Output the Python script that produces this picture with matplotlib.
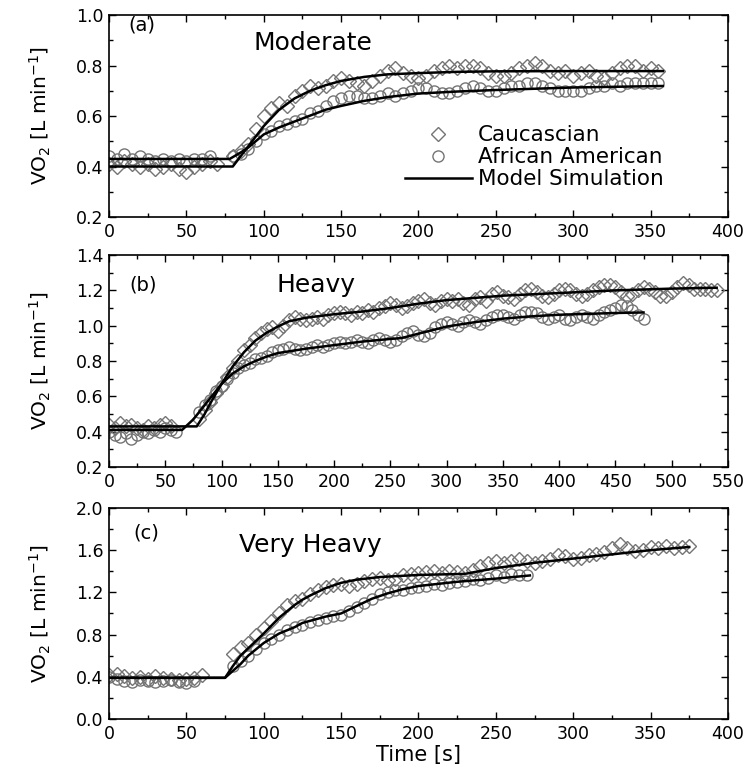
import numpy as np
import matplotlib
matplotlib.use('Agg')
import matplotlib.pyplot as plt
from matplotlib.ticker import MultipleLocator, FormatStrFormatter

plt.rcParams['font.family'] = ['DejaVu Sans']

# ---------------- panel (a) Moderate ----------------
a_cau_t = np.concatenate([np.arange(0, 75, 5), np.arange(80, 360, 5)])
a_cau_v = [0.41, 0.40, 0.42, 0.41, 0.40, 0.41, 0.39, 0.40, 0.41, 0.39, 0.38, 0.40, 0.41, 0.42, 0.41,
           0.44, 0.46, 0.49, 0.55, 0.60, 0.63, 0.65, 0.64, 0.68, 0.70,
           0.72, 0.71, 0.72, 0.74, 0.75, 0.74, 0.73, 0.72, 0.74, 0.76,
           0.78, 0.79, 0.77, 0.76, 0.75, 0.76, 0.78, 0.79, 0.80, 0.79,
           0.80, 0.80, 0.79, 0.77, 0.76, 0.76, 0.77, 0.79, 0.80, 0.81,
           0.80, 0.78, 0.77, 0.78, 0.76, 0.77, 0.78, 0.76, 0.75, 0.77,
           0.79, 0.80, 0.80, 0.78, 0.79, 0.78]
a_afr_t = np.concatenate([np.arange(0, 70, 5), np.arange(80, 360, 5)])
a_afr_v = [0.44, 0.43, 0.45, 0.43, 0.44, 0.43, 0.42, 0.43, 0.42, 0.43, 0.42, 0.43, 0.43, 0.44,
           0.44, 0.45, 0.47, 0.50, 0.53, 0.54, 0.56, 0.57, 0.58, 0.59,
           0.61, 0.62, 0.64, 0.66, 0.67, 0.68, 0.68, 0.67, 0.67, 0.68,
           0.69, 0.68, 0.69, 0.70, 0.71, 0.71, 0.70, 0.69, 0.69, 0.70,
           0.71, 0.72, 0.71, 0.70, 0.70, 0.71, 0.72, 0.72, 0.73, 0.73,
           0.72, 0.71, 0.70, 0.70, 0.70, 0.70, 0.71, 0.72, 0.72, 0.73,
           0.72, 0.73, 0.73, 0.73, 0.73, 0.73]
a_cau_mt = [0, 80, 85, 90, 95, 100, 110, 120, 130, 140, 150, 165, 180, 200, 225, 250, 300, 358]
a_cau_mv = [0.40, 0.40, 0.44, 0.48, 0.52, 0.56, 0.625, 0.67, 0.70, 0.722, 0.739, 0.755, 0.765,
            0.770, 0.775, 0.777, 0.778, 0.778]
a_afr_mt = [0, 78, 85, 90, 100, 110, 125, 140, 150, 165, 180, 200, 225, 250, 300, 358]
a_afr_mv = [0.43, 0.43, 0.455, 0.475, 0.527, 0.555, 0.59, 0.625, 0.64, 0.66, 0.675, 0.689,
            0.697, 0.703, 0.713, 0.719]

# ---------------- panel (b) Heavy ----------------
b_cau_t = np.concatenate([np.arange(0, 60, 5), np.arange(80, 545, 5)])
b_cau_v = [0.44, 0.42, 0.45, 0.43, 0.44, 0.42, 0.41, 0.43, 0.42, 0.44, 0.45, 0.43,
           0.47, 0.52, 0.57, 0.62, 0.66, 0.71, 0.76, 0.80, 0.86, 0.89,
           0.93, 0.96, 0.98, 0.99, 0.97, 1.00, 1.03, 1.05, 1.04, 1.03,
           1.04, 1.05, 1.04, 1.06, 1.07, 1.08, 1.07, 1.06, 1.08, 1.07,
           1.09, 1.08, 1.10, 1.11, 1.13, 1.12, 1.10, 1.11, 1.13, 1.14,
           1.15, 1.13, 1.12, 1.14, 1.15, 1.14, 1.15, 1.13, 1.12, 1.15,
           1.16, 1.14, 1.18, 1.19, 1.17, 1.16, 1.15, 1.18, 1.20, 1.21,
           1.19, 1.17, 1.16, 1.18, 1.20, 1.21, 1.20, 1.18, 1.17, 1.18,
           1.20, 1.22, 1.23, 1.23, 1.22, 1.19, 1.17, 1.18, 1.20, 1.22,
           1.21, 1.19, 1.17, 1.17, 1.19, 1.22, 1.24, 1.23, 1.21, 1.21,
           1.21, 1.20, 1.20]
b_afr_t = np.concatenate([np.arange(0, 65, 5), np.arange(80, 480, 5)])
b_afr_v = [0.40, 0.38, 0.37, 0.39, 0.36, 0.38, 0.40, 0.39, 0.41, 0.40, 0.42, 0.41, 0.40,
           0.51, 0.55, 0.58, 0.63, 0.66, 0.70, 0.73, 0.76, 0.78, 0.79,
           0.81, 0.82, 0.83, 0.85, 0.86, 0.87, 0.88, 0.87, 0.86, 0.87,
           0.88, 0.89, 0.88, 0.89, 0.90, 0.91, 0.90, 0.91, 0.92, 0.91,
           0.90, 0.92, 0.93, 0.92, 0.91, 0.92, 0.94, 0.96, 0.97, 0.95,
           0.94, 0.96, 0.99, 1.01, 1.02, 1.01, 1.00, 1.02, 1.03, 1.02,
           1.01, 1.03, 1.05, 1.06, 1.06, 1.05, 1.04, 1.06, 1.08, 1.08,
           1.07, 1.05, 1.04, 1.05, 1.06, 1.04, 1.03, 1.05, 1.06, 1.05,
           1.04, 1.06, 1.08, 1.09, 1.10, 1.12, 1.11, 1.09, 1.06, 1.04]
b_cau_mt = [0, 78, 85, 90, 100, 110, 120, 130, 140, 150, 160, 175, 200, 225, 250, 275, 300,
            350, 400, 450, 500, 540]
b_cau_mv = [0.43, 0.43, 0.50, 0.56, 0.67, 0.77, 0.85, 0.915, 0.96, 0.995, 1.025, 1.045, 1.065,
            1.08, 1.10, 1.125, 1.145, 1.17, 1.185, 1.20, 1.21, 1.215]
b_afr_mt = [0, 65, 75, 85, 95, 100, 110, 120, 130, 140, 150, 175, 200, 225, 250, 260, 275,
            300, 325, 350, 375, 400, 450, 475]
b_afr_mv = [0.41, 0.41, 0.47, 0.55, 0.63, 0.67, 0.73, 0.77, 0.80, 0.825, 0.845, 0.87, 0.89,
            0.91, 0.925, 0.93, 0.955, 0.995, 1.02, 1.04, 1.053, 1.062, 1.072, 1.075]

# ---------------- panel (c) Very Heavy ----------------
c_cau_t = np.concatenate([np.arange(0, 65, 5), np.arange(80, 380, 5)])
c_cau_v = [0.42, 0.43, 0.41, 0.39, 0.40, 0.38, 0.41, 0.39, 0.38, 0.37, 0.38, 0.39, 0.42,
           0.62, 0.68, 0.72, 0.80, 0.86, 0.93, 1.00, 1.08, 1.12, 1.14,
           1.18, 1.22, 1.25, 1.27, 1.28, 1.26, 1.28, 1.31, 1.33, 1.34,
           1.32, 1.33, 1.36, 1.37, 1.38, 1.39, 1.40, 1.38, 1.40, 1.39,
           1.38, 1.41, 1.45, 1.48, 1.50, 1.48, 1.50, 1.52, 1.50, 1.48,
           1.50, 1.52, 1.55, 1.54, 1.52, 1.53, 1.55, 1.56, 1.58, 1.62,
           1.66, 1.62, 1.59, 1.60, 1.63, 1.62, 1.64, 1.62, 1.63, 1.64]
c_afr_t = np.concatenate([np.arange(0, 60, 5), np.arange(80, 275, 5)])
c_afr_v = [0.40, 0.38, 0.36, 0.35, 0.37, 0.36, 0.35, 0.36, 0.37, 0.35, 0.34, 0.36,
           0.50, 0.55, 0.60, 0.66, 0.72, 0.76, 0.80, 0.84, 0.87, 0.89,
           0.92, 0.94, 0.96, 0.98, 0.99, 1.02, 1.06, 1.10, 1.14, 1.18,
           1.20, 1.22, 1.22, 1.24, 1.25, 1.26, 1.28, 1.27, 1.29, 1.30,
           1.31, 1.33, 1.32, 1.34, 1.36, 1.35, 1.37, 1.36, 1.36]
c_cau_mt = [0, 75, 80, 85, 90, 100, 110, 120, 125, 130, 140, 150, 160, 175, 200, 230, 250,
            275, 300, 325, 350, 375]
c_cau_mv = [0.39, 0.39, 0.50, 0.60, 0.67, 0.81, 0.96, 1.08, 1.13, 1.17, 1.24, 1.29, 1.32,
            1.345, 1.365, 1.375, 1.43, 1.48, 1.52, 1.56, 1.60, 1.63]
c_afr_mt = [0, 75, 85, 90, 100, 110, 120, 125, 130, 140, 150, 160, 170, 180, 190, 200, 225,
            250, 272]
c_afr_mv = [0.39, 0.39, 0.52, 0.60, 0.72, 0.81, 0.87, 0.91, 0.93, 0.97, 1.00, 1.07, 1.14,
            1.19, 1.23, 1.26, 1.30, 1.33, 1.36]

panels = [
    dict(pos=[0.1451, 0.7200, 0.8242, 0.2606], xlim=(0, 400), ylim=(0.2, 1.0), ymaj=0.2,
         tag='(a)', name='Moderate', tag_xy=(0.031, 0.95), name_xy=(0.234, 0.86),
         cau=(a_cau_t, a_cau_v, a_cau_mt, a_cau_mv), afr=(a_afr_t, a_afr_v, a_afr_mt, a_afr_mv)),
    dict(pos=[0.1451, 0.3974, 0.8242, 0.2735], xlim=(0, 550), ylim=(0.2, 1.4), ymaj=0.2,
         tag='(b)', name='Heavy', tag_xy=(0.033, 0.86), name_xy=(0.27, 0.86),
         cau=(b_cau_t, b_cau_v, b_cau_mt, b_cau_mv), afr=(b_afr_t, b_afr_v, b_afr_mt, b_afr_mv)),
    dict(pos=[0.1451, 0.0723, 0.8242, 0.2723], xlim=(0, 400), ylim=(0.0, 2.0), ymaj=0.4,
         tag='(c)', name='Very Heavy', tag_xy=(0.039, 0.88), name_xy=(0.21, 0.825),
         cau=(c_cau_t, c_cau_v, c_cau_mt, c_cau_mv), afr=(c_afr_t, c_afr_v, c_afr_mt, c_afr_mv)),
]

grey = '#747474'
fig = plt.figure(figsize=(7.51, 7.75), dpi=100)

for i, p in enumerate(panels):
    ax = fig.add_axes(p['pos'])
    ct, cv, cmt, cmv = p['cau']
    at, av, amt, amv = p['afr']
    ax.plot(ct, cv, ls='none', marker='D', ms=6.8, mfc='none', mec=grey, mew=1.0,
            label='Caucascian', zorder=2)
    ax.plot(at, av, ls='none', marker='o', ms=8, mfc='none', mec=grey, mew=1.0,
            label='African American', zorder=2)
    ax.plot(cmt, cmv, color='black', lw=1.8, label='Model Simulation', zorder=3)
    ax.plot(amt, amv, color='black', lw=1.8, zorder=3)

    ax.set_xlim(*p['xlim'])
    ax.set_ylim(*p['ylim'])
    ax.xaxis.set_major_locator(MultipleLocator(50))
    ax.xaxis.set_minor_locator(MultipleLocator(25))
    ax.yaxis.set_major_locator(MultipleLocator(p['ymaj']))
    ax.yaxis.set_minor_locator(MultipleLocator(p['ymaj'] / 2))
    ax.yaxis.set_major_formatter(FormatStrFormatter('%.1f'))
    ax.tick_params(which='both', direction='in', top=True, right=True, width=1.0,
                   labelsize=12.5, pad=4)
    ax.tick_params(which='major', length=5)
    ax.tick_params(which='minor', length=3)
    for s in ax.spines.values():
        s.set_linewidth(1.2)

    ax.set_ylabel('VO$_2$ [L min$^{-1}$]', fontsize=14.5)
    ax.yaxis.set_label_coords(-0.09, 0.5)

    ax.text(p['tag_xy'][0], p['tag_xy'][1], p['tag'], transform=ax.transAxes,
            fontsize=14, ha='left', va='center')
    ax.text(p['name_xy'][0], p['name_xy'][1], p['name'], transform=ax.transAxes,
            fontsize=18, ha='left', va='center')

    if i == 0:
        ax.legend(loc='upper left', bbox_to_anchor=(0.478, 0.455), frameon=False,
                  fontsize=15.5, handlelength=3.1, handletextpad=0.3, labelspacing=0.1,
                  borderpad=0, borderaxespad=0)
    if i == 2:
        ax.set_xlabel('Time [s]', fontsize=15, labelpad=2)

fig.savefig('out.png', dpi=100)
